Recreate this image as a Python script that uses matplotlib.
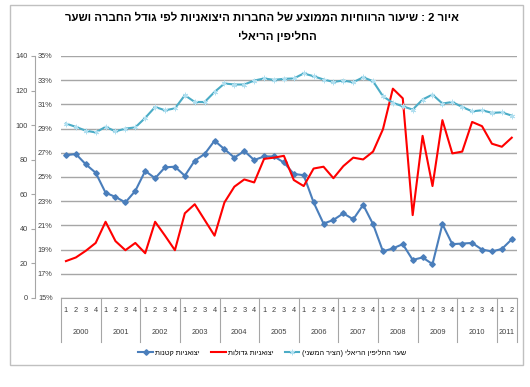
import matplotlib.pyplot as plt
from matplotlib.patches import Rectangle
from matplotlib.lines import Line2D
import matplotlib.transforms as mtransforms

plt.rcParams['font.family'] = ['Liberation Sans', 'DejaVu Sans']


def rtl(s):
    # matplotlib has no bidi support: flip the string and mirror brackets
    return s[::-1].translate(str.maketrans('()', ')('))


# data
years = ['2000', '2001', '2002', '2003', '2004', '2005', '2006', '2007', '2008', '2009', '2010', '2011']
quarters = ['1', '2', '3', '4'] * 11 + ['1', '2']

small_exporters = [26.8, 26.9, 26.05, 25.35, 23.7, 23.35, 22.9, 23.85, 25.5, 24.9, 25.8, 25.85,
                   25.1, 26.35, 26.9, 28.0, 27.3, 26.6, 27.15, 26.4, 26.7, 26.7, 26.2, 25.25,
                   25.15, 22.9, 21.15, 21.45, 22.0, 21.5, 22.7, 21.1, 18.85, 19.1, 19.45, 18.15,
                   18.35, 17.8, 21.1, 19.45, 19.5, 19.55, 19.0, 18.85, 19.05, 19.85]
large_exporters = [18.05, 18.35, 18.9, 19.55, 21.3, 19.7, 18.95, 19.55, 18.7, 21.3, 20.15, 18.95,
                   22.0, 22.75, 21.45, 20.15, 22.9, 24.2, 24.8, 24.55, 26.5, 26.6, 26.75, 24.75,
                   24.25, 25.7, 25.85, 24.9, 25.9, 26.6, 26.45, 27.1, 28.95, 32.3, 31.5, 21.85,
                   28.4, 24.25, 29.7, 26.95, 27.1, 29.55, 29.2, 27.75, 27.5, 28.25]
real_exchange = [100.9, 99.0, 96.8, 95.8, 99.0, 96.4, 98.0, 98.7, 104.2, 110.5, 108.6, 109.7,
                 117.3, 113.4, 113.4, 119.2, 124.1, 123.5, 123.5, 125.8, 127.0, 126.2, 126.8, 127.0,
                 129.9, 128.3, 126.4, 125.0, 125.8, 124.8, 127.7, 125.4, 116.7, 112.9, 110.9, 109.0,
                 114.8, 117.7, 112.5, 113.4, 110.5, 108.0, 108.6, 107.1, 107.4, 105.5]

pct_ticks = list(range(15, 36, 2))
idx_ticks = list(range(0, 141, 20))

title_1 = 'איור 2 : שיעור הרווחיות הממוצע של החברות היצואניות לפי גודל החברה ושער'
title_2 = 'החליפין הריאלי'
lbl_small = 'יצואניות קטנות'
lbl_large = 'יצואניות גדולות'
lbl_rer = 'שער החליפין הריאלי (הציר המשני)'

W, H = 530, 387
fig = plt.figure(figsize=(W / 100, H / 100), dpi=100)

# outer frame
fig.patches.append(Rectangle((10 / W, 1 - 365 / H), 513 / W, 360 / H, transform=fig.transFigure,
                             fill=False, edgecolor='#c0c0c0', linewidth=1))

fig.text(262 / W, 1 - 18 / H, rtl(title_1), ha='center', va='center', fontsize=8.2, fontweight='bold')
fig.text(277 / W, 1 - 36 / H, rtl(title_2), ha='center', va='center', fontsize=8.2, fontweight='bold')

left, right, top, bottom = 61, 516.7, 56, 298
ax = fig.add_axes([left / W, 1 - bottom / H, (right - left) / W, (bottom - top) / H])
ax.set_xlim(-0.5, len(quarters) - 0.5)
ax.set_ylim(15, 35)
ax.set_yticks(pct_ticks)
ax.set_yticklabels([f'{t}%' for t in pct_ticks])
ax.grid(axis='y', color='#a6a6a6', linewidth=1)
ax.set_axisbelow(True)
for s in ['left', 'right', 'top']:
    ax.spines[s].set_visible(False)
ax.spines['bottom'].set_color('#a6a6a6')
ax.tick_params(axis='y', length=0, pad=6, labelsize=5.3, labelcolor='#404040')
ax.set_xticks([])

x = list(range(len(quarters)))
ax.plot(x, small_exporters, color='#4a7ebb', linewidth=1.5, marker='D', markersize=2.8,
        label=rtl(lbl_small), zorder=3)
ax.plot(x, large_exporters, color='#ff0000', linewidth=1.5, label=rtl(lbl_large), zorder=4)

ax2 = ax.twinx()
ax2.set_ylim(0, 140)
ax2.set_yticks(idx_ticks)
ax2.yaxis.tick_left()
for s in ['right', 'top', 'bottom']:
    ax2.spines[s].set_visible(False)
ax2.spines['left'].set_position(('outward', (left - 35) * 0.72))
ax2.spines['left'].set_color('#a6a6a6')
ax2.tick_params(axis='y', direction='out', length=3, color='#a6a6a6', pad=2,
                labelsize=5.3, labelcolor='#404040')
ax2.plot(x, real_exchange, color='#4bacc6', linewidth=1.5, marker=(6, 2, 0), markersize=4,
         markeredgecolor='#b0dff0', markeredgewidth=0.6, label=rtl(lbl_rer), zorder=2)

# category axis: quarters under each point, years under each group of four
trans = mtransforms.blended_transform_factory(ax.transData, ax.transAxes)
h = bottom - top
for i, q in enumerate(quarters):
    ax.text(i, -(310 - bottom) / h, q, transform=trans, ha='center', va='center',
            fontsize=5.3, color='#404040')
for k, yr in enumerate(years):
    start = 4 * k - 0.5
    end = min(4 * k + 3.5, len(quarters) - 0.5)
    ax.text((start + end) / 2, -(333 - bottom) / h, yr, transform=trans, ha='center',
            va='center', fontsize=5.3, color='#404040')
    ax.add_line(Line2D([start, start], [0, -(342 - bottom) / h], transform=trans,
                       color='#a6a6a6', linewidth=0.8, clip_on=False))
ax.add_line(Line2D([len(quarters) - 0.5] * 2, [0, -(342 - bottom) / h], transform=trans,
                   color='#a6a6a6', linewidth=0.8, clip_on=False))

h1, l1 = ax.get_legend_handles_labels()
h2, l2 = ax2.get_legend_handles_labels()
fig.legend(h1 + h2, l1 + l2, ncol=3, loc='center', bbox_to_anchor=(272 / W, 1 - 353 / H),
           frameon=False, fontsize=5.2, handlelength=2.0, columnspacing=1.6, handletextpad=0.3)

fig.savefig('out.png', dpi=100)
